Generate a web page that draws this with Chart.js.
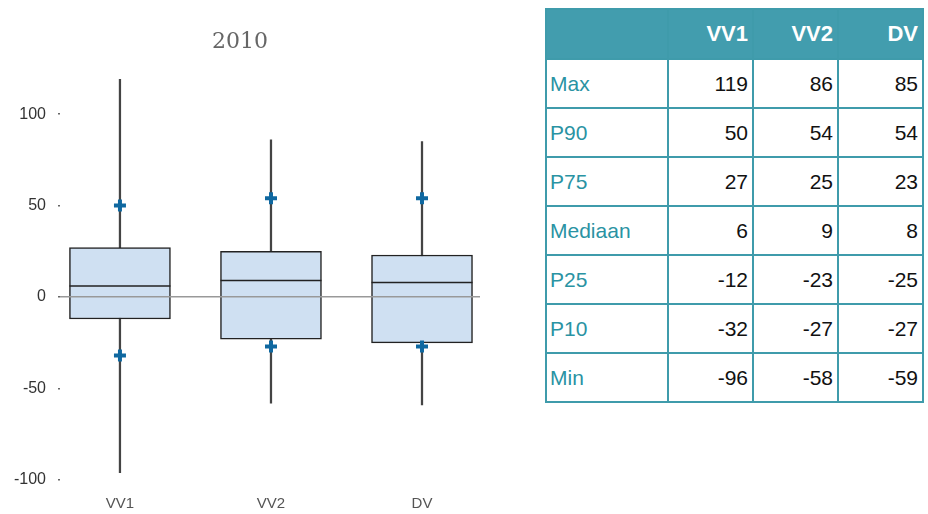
<!DOCTYPE html>
<html>
<head>
<meta charset="utf-8">
<script src="https://cdn.jsdelivr.net/npm/chart.js@4/dist/chart.umd.min.js"></script>
<style>
  body { margin: 0; background: #fff; }
  #wrap { position: absolute; left: 0; top: 0; width: 490px; height: 514px; }
  table {
    position: absolute; left: 545px; top: 8px;
    border-collapse: collapse;
    font-family: "Liberation Sans", Arial, sans-serif;
    font-size: 21px;
  }
  th, td { border: 2px solid #3f9bab; padding: 0 4px 0 3px; }
  th { background: #429dae; color: #fff; font-weight: bold; text-align: right; height: 48px; font-size: 22px; }
  td { height: 47px; text-align: right; color: #111; }
  td.lab { text-align: left; color: #2a93a3; }
</style>
</head>
<body>
<div id="wrap"><canvas id="grafico"></canvas></div>
<table id="tabel"></table>
<script>
const categorieen = ['VV1', 'VV2', 'DV'];
const maxWaarden = [119, 86, 85];
const p90 = [50, 54, 54];
const p75 = [27, 25, 23];
const mediaan = [6, 9, 8];
const p25 = [-12, -23, -25];
const p10 = [-32, -27, -27];
const minWaarden = [-96, -58, -59];
const yTicks = [-100, -50, 0, 50, 100];

const rijen = [
  ['Max', maxWaarden], ['P90', p90], ['P75', p75], ['Mediaan', mediaan],
  ['P25', p25], ['P10', p10], ['Min', minWaarden]
];

// tabel rechts
const tabel = document.getElementById('tabel');
let html = '<tr><th style="width:113px"></th>' + categorieen.map(c => '<th style="width:76px">' + c + '</th>').join('') + '</tr>';
rijen.forEach(r => {
  html += '<tr><td class="lab">' + r[0] + '</td>' + r[1].map(v => '<td>' + v + '</td>').join('') + '</tr>';
});
tabel.innerHTML = html;

const punten = (arr) => arr.map((v, i) => ({ x: i, y: v }));

new Chart(document.getElementById('grafico'), {
  type: 'bar',
  data: {
    datasets: [
      {
        label: 'snorharen',
        data: categorieen.map((c, i) => ({ x: i, y: [minWaarden[i], maxWaarden[i]] })),
        backgroundColor: '#444',
        barThickness: 1.6,
        grouped: false,
        order: 4
      },
      {
        label: 'box',
        data: categorieen.map((c, i) => ({ x: i, y: [p25[i], p75[i]] })),
        backgroundColor: '#cfe0f2',
        borderColor: '#222',
        borderWidth: 1.5,
        borderSkipped: false,
        barThickness: 101,
        grouped: false,
        order: 3
      },
      {
        type: 'scatter',
        label: 'mediaan',
        data: punten(mediaan),
        pointStyle: 'line',
        pointRadius: 50.5,
        borderColor: '#222',
        borderWidth: 1.5,
        order: 2
      },
      {
        type: 'scatter',
        label: 'P10/P90',
        data: punten(p90).concat(punten(p10)),
        pointStyle: 'cross',
        pointRadius: 6,
        borderColor: '#0f68a0',
        borderWidth: 4,
        order: 1
      }
    ]
  },
  options: {
    responsive: true,
    maintainAspectRatio: false,
    animation: false,
    layout: { autoPadding: false, padding: { right: 10 } },
    plugins: {
      legend: { display: false },
      tooltip: { enabled: false },
      title: {
        display: true,
        text: '2010',
        color: '#666',
        font: { family: '"DejaVu Serif", serif', size: 22, weight: 'normal' },
        padding: { top: 29, bottom: 13 }
      }
    },
    scales: {
      x: {
        type: 'linear',
        offset: false,
        min: -0.397,
        max: 2.384,
        grid: { display: false },
        border: { display: false },
        afterBuildTicks: (s) => { s.ticks = categorieen.map((c, i) => ({ value: i })); },
        afterFit: (s) => { s.height = 34; },
        ticks: {
          color: '#555',
          font: { family: '"Liberation Sans", Arial, sans-serif', size: 15 },
          padding: 7,
          callback: (v) => categorieen[v]
        }
      },
      y: {
        min: -100,
        max: 125,
        border: { display: false },
        afterBuildTicks: (s) => { s.ticks = yTicks.map(v => ({ value: v })); },
        afterFit: (s) => { s.width = 60; },
        grid: {
          z: 1,
          color: (ctx) => ctx.tick && ctx.tick.value === 0 ? '#999' : 'transparent',
          lineWidth: 1.5,
          tickColor: '#666',
          tickLength: 2
        },
        ticks: {
          color: '#333',
          font: { family: '"Liberation Sans", Arial, sans-serif', size: 16 },
          padding: 12
        }
      }
    }
  }
});
</script>
</body>
</html>
